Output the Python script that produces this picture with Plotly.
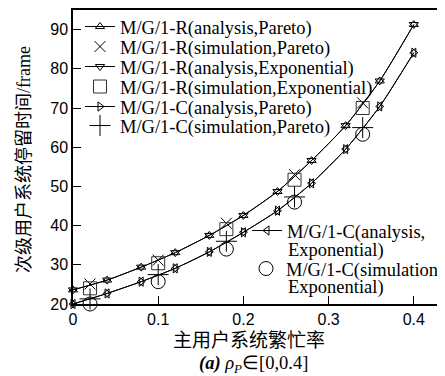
import plotly.graph_objects as go

# ---- data ----
rho_analysis = [0.0, 0.04, 0.08, 0.12, 0.16, 0.20, 0.24, 0.28, 0.32, 0.36, 0.40]
r_analysis = [23.6, 26.1, 29.4, 33.1, 37.5, 42.6, 48.7, 56.6, 65.5, 76.9, 91.3]
c_analysis = [20.0, 22.7, 25.7, 29.1, 33.3, 38.3, 43.8, 50.8, 59.5, 70.4, 84.1]
rho_sim = [0.02, 0.10, 0.18, 0.26, 0.34]
r_sim_pareto = [25.1, 31.2, 40.6, 53.0, 71.3]
r_sim_exp = [24.0, 30.4, 39.1, 51.7, 70.0]
c_sim_pareto = [21.3, 27.5, 36.0, 47.3, 65.0]
c_sim_exp = [20.0, 25.7, 34.0, 46.0, 63.3]
x_ticks = [0, 0.1, 0.2, 0.3, 0.4]
x_tick_labels = ["0", "0.1", "0.2", "0.3", "0.4"]
y_ticks = [20, 30, 40, 50, 60, 70, 80, 90]

names = [
    "M/G/1-R(analysis,Pareto)",
    "M/G/1-R(simulation,Pareto)",
    "M/G/1-R(analysis,Exponential)",
    "M/G/1-R(simulation,Exponential)",
    "M/G/1-C(analysis,Pareto)",
    "M/G/1-C(simulation,Pareto)",
    "M/G/1-C(analysis,",
    "M/G/1-C(simulation,",
]

# the page keeps the default 8px body margin
OFF = 8
PAGE_W, PAGE_H = 445, 376
W, H = PAGE_W - OFF, PAGE_H - OFF
# plot area in page pixels: left 73, top 10, bottom 304, right 445
L, T = 73 - OFF, 10 - OFF
B = H - (304 - OFF)
R = 0
PW, PH = W - L - R, H - T - B
SERIF = "Liberation Serif, Times New Roman, serif"
CJK = "Liberation Serif, Noto Sans CJK SC, serif"

fig = go.Figure()

def line_trace(x, y, sym, name, leg):
    return go.Scatter(x=x, y=y, mode="lines+markers", name=name, legend=leg,
                      line=dict(color="black", width=1, shape="spline", smoothing=0.6),
                      marker=dict(symbol=sym, size=8, color="black", line=dict(width=1, color="black")),
                      cliponaxis=False)

def mark_trace(x, y, sym, size, name, leg, color="black"):
    return go.Scatter(x=x, y=y, mode="markers", name=name, legend=leg,
                      marker=dict(symbol=sym, size=size, color=color, line=dict(width=1, color=color)),
                      cliponaxis=False)

fig.add_trace(line_trace(rho_analysis, r_analysis, "triangle-up-open", names[0], "legend"))
fig.add_trace(mark_trace(rho_sim, r_sim_pareto, "x-thin-open", 11, names[1], "legend2"))
fig.add_trace(line_trace(rho_analysis, r_analysis, "triangle-down-open", names[2], "legend3"))
fig.add_trace(mark_trace(rho_sim, r_sim_exp, "square-open", 13, names[3], "legend4", "#333333"))
fig.add_trace(line_trace(rho_analysis, c_analysis, "triangle-right-open", names[4], "legend5"))
fig.add_trace(mark_trace(rho_sim, c_sim_pareto, "cross-thin-open", 15, names[5], "legend6"))
fig.add_trace(line_trace(rho_analysis, c_analysis, "triangle-left-open", names[6], "legend7"))
fig.add_trace(mark_trace(rho_sim, c_sim_exp, "circle-open", 14, names[7], "legend8"))

def px2paper(px, py):
    # page pixel -> paper fraction
    fx, fy = px - OFF, py - OFF
    return (fx - L) / PW, (H - B - fy) / PH

LEG_FONT = 18.5

def leg(px, py):
    lx, ly = px2paper(px, py)
    return dict(x=lx, y=ly, xref="paper", yref="paper",
                xanchor="left", yanchor="middle", bgcolor="rgba(0,0,0,0)",
                borderwidth=0, font=dict(family=SERIF, size=LEG_FONT, color="black"))

rows = [27, 47, 67, 87, 107, 126]
layout_legends = {}
keys = ["legend", "legend2", "legend3", "legend4", "legend5", "legend6"]
for k, r in zip(keys, rows):
    layout_legends[k] = leg(80, r)
layout_legends["legend7"] = leg(247, 231)
layout_legends["legend8"] = leg(246, 269)

annots = []
for (px, py) in [(286, 250), (286, 287)]:
    ax_, ay_ = px2paper(px, py)
    annots.append(dict(x=ax_, y=ay_, xref="paper", yref="paper", text="Exponential)",
                       showarrow=False, xanchor="left", yanchor="middle",
                       font=dict(family=SERIF, size=LEG_FONT, color="black")))
ax_, ay_ = px2paper(249, 340)
annots.append(dict(x=ax_, y=ay_, xref="paper", yref="paper", text="主用户系统繁忙率",
                   showarrow=False, xanchor="center", yanchor="middle",
                   font=dict(family=CJK, size=19, color="black")))
ax_, ay_ = px2paper(24, 160)
annots.append(dict(x=ax_, y=ay_, xref="paper", yref="paper", text="次级用户系统停留时间/frame",
                   showarrow=False, xanchor="center", yanchor="middle", textangle=-90,
                   font=dict(family=CJK, size=18, color="black")))
ax_, ay_ = px2paper(253, 364)
annots.append(dict(x=ax_, y=ay_, xref="paper", yref="paper",
                   text="<b><i>(a)</i></b> <i>ρ</i><sub><i>P</i></sub>∈[0,0.4]",
                   showarrow=False, xanchor="center", yanchor="middle",
                   font=dict(family=SERIF, size=18.5, color="black")))

fig.update_layout(
    width=W, height=H, autosize=False,
    margin=dict(l=L, r=R, t=T, b=B, autoexpand=False),
    paper_bgcolor="white", plot_bgcolor="white",
    showlegend=True,
    annotations=annots,
    xaxis=dict(range=[0, 0.4366], tickvals=x_ticks, ticktext=x_tick_labels,
               ticks="inside", ticklen=8, tickwidth=1, tickcolor="black",
               showline=True, linewidth=1.5, linecolor="black", mirror=True,
               showgrid=False, zeroline=False,
               tickfont=dict(family="Liberation Sans, Arial", size=16, color="black")),
    yaxis=dict(range=[20, 95], tickvals=y_ticks,
               ticks="inside", ticklen=8, tickwidth=1, tickcolor="black",
               showline=True, linewidth=1.5, linecolor="black", mirror=False,
               showgrid=False, zeroline=False,
               tickfont=dict(family="Liberation Sans, Arial", size=16, color="black")),
    **layout_legends,
)

fig.write_html("out.html")
